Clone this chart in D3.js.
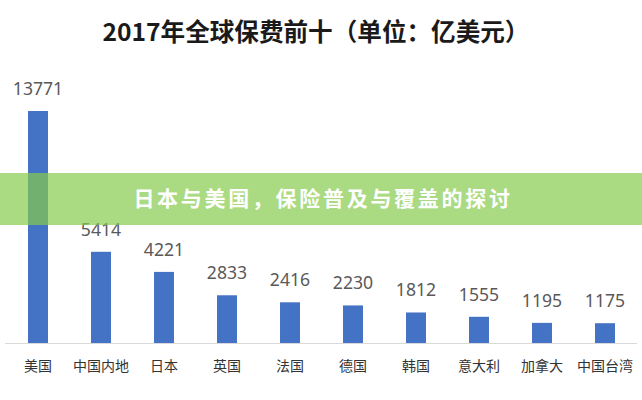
<!DOCTYPE html>
<html>
<head>
<meta charset="utf-8">
<script src="https://cdn.jsdelivr.net/npm/d3@7"></script>
<style>
  html, body { margin: 0; padding: 0; background: #fff; }
  svg { display: block; }
</style>
</head>
<body>
<svg id="chart" width="642" height="400"></svg>
<script>
const categories = ["美国", "中国内地", "日本", "英国", "法国", "德国", "韩国", "意大利", "加拿大", "中国台湾"];
const premiums = [13771, 5414, 4221, 2833, 2416, 2230, 1812, 1555, 1195, 1175];
const titleText = "2017年全球保费前十（单位：亿美元）";
const bannerText = "日本与美国，保险普及与覆盖的探讨";

const W = 642, H = 400;
const svg = d3.select("#chart");

svg.append("rect").attr("width", W).attr("height", H).attr("fill", "#ffffff");

const x = d3.scaleBand()
  .domain(categories)
  .range([6.5, 636.5])
  .paddingInner(0.683)
  .paddingOuter(0.683 / 2);

const y = d3.scaleLinear()
  .domain([0, d3.max(premiums)])
  .range([343, 111]);

// Title
svg.append("text")
  .attr("x", 316)
  .attr("y", 41)
  .attr("text-anchor", "middle")
  .attr("font-family", "'Noto Sans CJK SC', sans-serif")
  .attr("font-weight", "bold")
  .attr("font-size", 24.6)
  .attr("fill", "#1a1a1a")
  .text(titleText);

// Bars
svg.append("g").selectAll("rect")
  .data(categories)
  .join("rect")
  .attr("x", d => x(d))
  .attr("y", (d, i) => y(premiums[i]))
  .attr("width", x.bandwidth())
  .attr("height", (d, i) => y(0) - y(premiums[i]))
  .attr("fill", "#4472C4");

// Baseline axis (no ticks)
const axis = svg.append("g")
  .attr("transform", `translate(0,${y(0)})`)
  .call(d3.axisBottom(x).tickSize(0).tickPadding(14).tickSizeOuter(0));
axis.select(".domain").attr("stroke", "#d9d9d9").attr("d", "M5,0.5H637");
axis.selectAll(".tick text")
  .attr("font-family", "'Noto Sans CJK SC', sans-serif")
  .attr("font-size", 14)
  .attr("fill", "#333333")
  .attr("dy", 0)
  .attr("y", 28);

// Value labels
svg.append("g").selectAll("text")
  .data(categories)
  .join("text")
  .attr("x", d => x(d) + x.bandwidth() / 2)
  .attr("y", (d, i) => y(premiums[i]) - 16)
  .attr("text-anchor", "middle")
  .attr("font-family", "'Noto Sans', 'Open Sans', sans-serif")
  .attr("font-size", 17.6)
  .attr("fill", "#595959")
  .text((d, i) => premiums[i]);

// Banner overlay
svg.append("rect")
  .attr("x", 0)
  .attr("y", 173)
  .attr("width", W)
  .attr("height", 52)
  .attr("fill", "rgb(134,202,76)")
  .attr("fill-opacity", 0.7);

svg.append("text")
  .attr("x", 323)
  .attr("y", 206)
  .attr("text-anchor", "middle")
  .attr("font-family", "'Noto Sans CJK SC', sans-serif")
  .attr("font-weight", "bold")
  .attr("font-size", 21)
  .attr("letter-spacing", 2.7)
  .attr("fill", "#ffffff")
  .text(bannerText);
</script>
</body>
</html>
